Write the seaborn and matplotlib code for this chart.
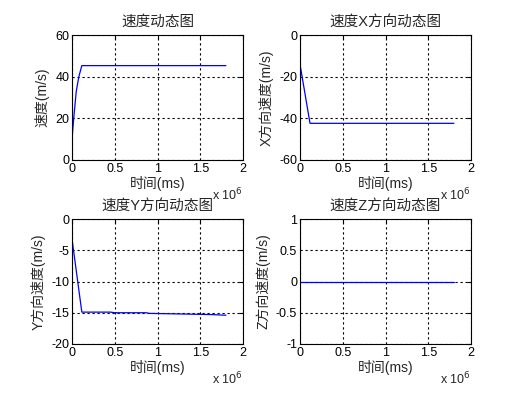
import matplotlib
matplotlib.use("Agg")
import matplotlib.pyplot as plt
import seaborn as sns
import pandas as pd
from matplotlib.ticker import FuncFormatter, MultipleLocator

sns.set_style("white")
plt.rcParams['font.family'] = ['Liberation Sans', 'Noto Sans CJK SC', 'DejaVu Sans']
plt.rcParams['axes.unicode_minus'] = False

# data (time in ms, speeds in m/s)
t_speed = [0, 0.02e6, 0.05e6, 0.08e6, 0.115e6, 1.8e6]
v_speed = [10, 20, 33, 40, 45.3, 45.3]

t_x = [0, 0.004e6, 0.117e6, 1.8e6]
v_x = [-9, -15, -42.4, -42.4]

t_y = [0, 0.115e6, 0.45e6, 0.5e6, 0.87e6, 0.9e6, 1.3e6, 1.65e6, 1.8e6]
v_y = [-3.2, -14.9, -14.9, -15.0, -15.0, -15.1, -15.2, -15.3, -15.4]

t_z = [0, 1.8e6]
v_z = [0, 0]

titles = ["速度动态图", "速度X方向动态图", "速度Y方向动态图", "速度Z方向动态图"]
ylabels = ["速度(m/s)", "X方向速度(m/s)", "Y方向速度(m/s)", "Z方向速度(m/s)"]
ylims = [(0, 60), (-60, 0), (-20, 0), (-1, 1)]
ysteps = [20, 20, 5, 0.5]
series = [(t_speed, v_speed), (t_x, v_x), (t_y, v_y), (t_z, v_z)]

W, H = 528, 397
fig = plt.figure(figsize=(W / 100, H / 100), dpi=100)
rects = [(72, 35), (300, 35), (72, 219), (300, 219)]
aw, ah = 171, 125

fmt_y = FuncFormatter(lambda v, p: ("%g" % v))
fmt_x = FuncFormatter(lambda v, p: ("%g" % (v / 1e6)))

for i, ((lx, ty), (t, v)) in enumerate(zip(rects, series)):
    ax = fig.add_axes([lx / W, 1 - (ty + ah) / H, aw / W, ah / H])
    df = pd.DataFrame({"t": t, "v": v})
    sns.lineplot(data=df, x="t", y="v", ax=ax, color=(0, 0, 1), linewidth=0.9,
                 estimator=None, sort=False)
    ax.set_xlim(0, 2e6)
    ax.set_ylim(*ylims[i])
    ax.xaxis.set_major_locator(MultipleLocator(0.5e6))
    ax.yaxis.set_major_locator(MultipleLocator(ysteps[i]))
    ax.xaxis.set_major_formatter(fmt_x)
    ax.yaxis.set_major_formatter(fmt_y)
    ax.grid(True, color='black', linestyle=(0, (2, 2.5)), linewidth=0.8)
    ax.tick_params(direction='in', length=3, labelsize=9, colors='black',
                   top=True, right=True, pad=2)
    for s in ax.spines.values():
        s.set_color('black')
        s.set_linewidth(0.8)
    ax.set_title(titles[i], fontsize=10.5, pad=7)
    ax.set_xlabel("时间(ms)", fontsize=10, labelpad=1)
    ax.set_ylabel(ylabels[i], fontsize=10, labelpad=4)
    ax.text(1.0, -0.21, "x 10$^6$", transform=ax.transAxes, ha='right', va='top',
            fontsize=9)

fig.savefig("out.png", dpi=100, facecolor='white')
